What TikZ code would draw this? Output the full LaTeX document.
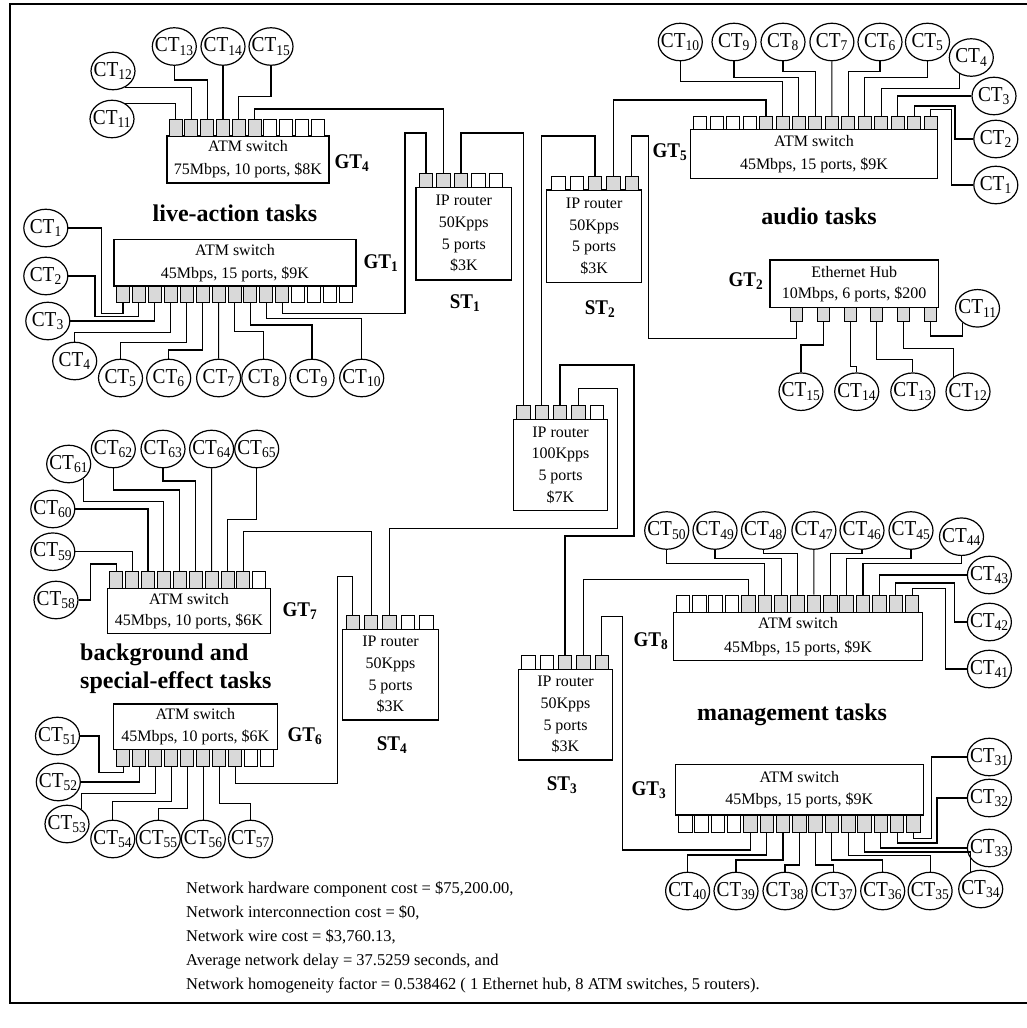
\documentclass[tikz,border=0pt]{standalone}
\usepackage{fontspec}
\usepackage{graphicx}
\setmainfont{Liberation Serif}
\usetikzlibrary{shapes.geometric}

\newcommand{\ctl}[1]{\makebox[0pt]{\scalebox{1}[1.1]{CT\textsubscript{#1}}}}
\newcommand{\gtl}[1]{\scalebox{1}[1.1]{GT\textsubscript{#1}}}
\newcommand{\stl}[1]{\scalebox{1}[1.1]{ST\textsubscript{#1}}}

\begin{document}
\begin{tikzpicture}[x=1pt, y=-1pt,
    wire/.style={line width=1.1pt},
    ct/.style={draw, ellipse, line width=1.2pt, minimum width=44, minimum height=37.5,
               inner sep=0pt, font=\fontsize{19.3}{20}\selectfont},
    sw/.style={draw, line width=1.3pt, inner sep=0pt, align=center,
               font=\fontsize{16}{23}\selectfont},
    rt/.style={draw, line width=1.3pt, inner sep=0pt, align=center,
               font=\fontsize{16}{21.7}\selectfont},
    port/.style={draw, line width=0.9pt, inner sep=0pt, minimum width=13, minimum height=16.6},
    rport/.style={port, minimum width=13.3, minimum height=14},
    tag/.style={font=\fontsize{19}{20}\selectfont\bfseries},
    task/.style={font=\fontsize{24}{28}\selectfont\bfseries, align=left, inner sep=0pt}]

\useasboundingbox (0,0) rectangle (1027,1028);
\draw[line width=1.2pt] (10,4) rectangle (1032,1003);

% GT4 - top left switch
\node[sw, minimum width=162, minimum height=47] (g4) at (248,159.5) {ATM switch\\75Mbps, 10 ports, \$8K};
\node[tag] (tg4) at (352,163) {\gtl{4}};
\foreach \i in {1,...,10}{
  \ifnum\i<7 \def\pf{gray!30}\else\def\pf{white}\fi
  \node[port, fill=\pf] (g4p\i) at ({175.6+15.8*(\i-1)},128) {};
}
\node[ct] (g4c11) at (112,119) {\ctl{11}};
\node[ct] (g4c12) at (113,71) {\ctl{12}};
\node[ct] (g4c13) at (174.3,46.5) {\ctl{13}};
\node[ct] (g4c14) at (223,46.5) {\ctl{14}};
\node[ct] (g4c15) at (271,46.5) {\ctl{15}};

% GT1 - live-action
\node[task] (live) at (235,213) {live-action tasks};
\node[sw, minimum width=242, minimum height=46.6] (g1) at (235,262.7) {ATM switch\\45Mbps, 15 ports, \$9K};
\node[tag] (tg1) at (381,263) {\gtl{1}};
\foreach \i in {1,...,15}{
  \ifnum\i<12 \def\pf{gray!30}\else\def\pf{white}\fi
  \node[port, fill=\pf] (g1p\i) at ({123+15.93*(\i-1)},294.3) {};
}
\node[ct] (g1c1) at (45.8,228) {\ctl{1}};
\node[ct] (g1c2) at (45.8,276) {\ctl{2}};
\node[ct] (g1c3) at (47.8,321) {\ctl{3}};
\node[ct] (g1c4) at (74.7,361) {\ctl{4}};
\node[ct] (g1c5) at (120.5,378) {\ctl{5}};
\node[ct] (g1c6) at (168.7,378) {\ctl{6}};
\node[ct] (g1c7) at (218.6,378) {\ctl{7}};
\node[ct] (g1c8) at (263.8,378) {\ctl{8}};
\node[ct] (g1c9) at (312,378) {\ctl{9}};
\node[ct] (g1c10) at (361.7,378) {\ctl{10}};

% routers ST1, ST2 and the core one
\node[rt, minimum width=95.7, minimum height=92.7] (st1) at (463.8,233.7) {IP router\\50Kpps\\5 ports\\\$3K};
\node[tag] (tst1) at (465,303) {\stl{1}};
\foreach \i in {1,...,5}{
  \ifnum\i<4 \def\pf{gray!30}\else\def\pf{white}\fi
  \node[rport, fill=\pf] (st1p\i) at ({426+17.5*(\i-1)},180.3) {};
}
\node[rt, minimum width=95, minimum height=92.7] (st2) at (594.2,236.35) {IP router\\50Kpps\\5 ports\\\$3K};
\node[tag] (tst2) at (600,309) {\stl{2}};
\foreach \i in {1,...,5}{
  \ifnum\i>2 \def\pf{gray!30}\else\def\pf{white}\fi
  \node[rport, fill=\pf] (st2p\i) at ({558.3+18.35*(\i-1)},183) {};
}
\node[rt, minimum width=94.4, minimum height=91.4] (core) at (560.5,465) {IP router\\100Kpps\\5 ports\\\$7K};
\foreach \i in {1,...,5}{
  \ifnum\i<5 \def\pf{gray!30}\else\def\pf{white}\fi
  \node[rport, fill=\pf] (corep\i) at ({523.3+18.35*(\i-1)},412.3) {};
}

% GT5 - audio
\node[task] (audio) at (819,216) {audio tasks};
\node[sw, minimum width=246.6, minimum height=49] (g5) at (814,153.8) {ATM switch\\45Mbps, 15 ports, \$9K};
\node[tag] (tg5) at (670,152) {\gtl{5}};
\foreach \i in {1,...,15}{
  \ifnum\i>4 \def\pf{gray!30}\else\def\pf{white}\fi
  \node[port, fill=\pf, minimum height=12.6] (g5p\i) at ({700.1+16.47*(\i-1)},123) {};
}
\node[ct] (g5c10) at (680.3,42) {\ctl{10}};
\node[ct] (g5c9) at (734,42) {\ctl{9}};
\node[ct] (g5c8) at (783,42) {\ctl{8}};
\node[ct] (g5c7) at (831.9,42) {\ctl{7}};
\node[ct] (g5c6) at (880,42) {\ctl{6}};
\node[ct] (g5c5) at (927.5,42) {\ctl{5}};
\node[ct] (g5c4) at (971.3,57.5) {\ctl{4}};
\node[ct] (g5c3) at (994,96) {\ctl{3}};
\node[ct] (g5c2) at (995.8,139) {\ctl{2}};
\node[ct] (g5c1) at (995.8,185) {\ctl{1}};

% GT2 - ethernet hub
\node[sw, minimum width=168.3, minimum height=47.3, font=\fontsize{16}{21}\selectfont] (g2) at (854.2,283.7) {Ethernet Hub\\10Mbps, 6 ports, \$200};
\node[tag] (tg2) at (746,281) {\gtl{2}};
\foreach \i in {1,...,6}
  \node[port, fill=gray!30, minimum width=12, minimum height=14.4] (g2p\i) at ({796.7+26.67*(\i-1)},314.5) {};
\node[ct] (g2c15) at (801,391.7) {\ctl{15}};
\node[ct] (g2c14) at (856.7,391.7) {\ctl{14}};
\node[ct] (g2c13) at (912.8,391.7) {\ctl{13}};
\node[ct] (g2c12) at (968,391.7) {\ctl{12}};
\node[ct] (g2c11) at (977.5,308.3) {\ctl{11}};

% GT7 - background
\node[sw, minimum width=163.4, minimum height=45, font=\fontsize{16}{21}\selectfont] (g7) at (189,610.8) {ATM switch\\45Mbps, 10 ports, \$6K};
\node[tag] (tg7) at (300,611) {\gtl{7}};
\foreach \i in {1,...,10}{
  \ifnum\i<10 \def\pf{gray!30}\else\def\pf{white}\fi
  \node[port, fill=\pf] (g7p\i) at ({116.2+15.9*(\i-1)},580) {};
}
\node[ct] (g7c58) at (56,600) {\ctl{58}};
\node[ct] (g7c59) at (52.8,551.7) {\ctl{59}};
\node[ct] (g7c60) at (52.8,509) {\ctl{60}};
\node[ct] (g7c61) at (68.7,464) {\ctl{61}};
\node[ct] (g7c62) at (113.3,449) {\ctl{62}};
\node[ct] (g7c63) at (163,449) {\ctl{63}};
\node[ct] (g7c64) at (211.6,449) {\ctl{64}};
\node[ct] (g7c65) at (256.7,449) {\ctl{65}};
\node[task, anchor=west] (bgfx) at (80,669) {background and\\special-effect tasks};

% GT6
\node[sw, minimum width=164, minimum height=45.3, font=\fontsize{16}{21.7}\selectfont] (g6) at (195.3,726.7) {ATM switch\\45Mbps, 10 ports, \$6K};
\node[tag] (tg6) at (305,736) {\gtl{6}};
\foreach \i in {1,...,10}{
  \ifnum\i<9 \def\pf{gray!30}\else\def\pf{white}\fi
  \node[port, fill=\pf] (g6p\i) at ({123.3+16*(\i-1)},757.65) {};
}
\node[ct] (g6c51) at (57.5,736) {\ctl{51}};
\node[ct] (g6c52) at (58.3,782) {\ctl{52}};
\node[ct] (g6c53) at (67,824) {\ctl{53}};
\node[ct] (g6c54) at (112.8,839) {\ctl{54}};
\node[ct] (g6c55) at (158.3,839) {\ctl{55}};
\node[ct] (g6c56) at (203.3,839) {\ctl{56}};
\node[ct] (g6c57) at (250.5,839) {\ctl{57}};

% routers ST4, ST3
\node[rt, minimum width=95.6, minimum height=90.7] (st4) at (390.5,674.65) {IP router\\50Kpps\\5 ports\\\$3K};
\node[tag] (tst4) at (392,745) {\stl{4}};
\foreach \i in {1,...,5}{
  \ifnum\i<4 \def\pf{gray!30}\else\def\pf{white}\fi
  \node[rport, fill=\pf] (st4p\i) at ({352.7+18.4*(\i-1)},622.3) {};
}
\node[rt, minimum width=94.4, minimum height=90.7] (st3) at (565.5,714.65) {IP router\\50Kpps\\5 ports\\\$3K};
\node[tag] (tst3) at (562,785) {\stl{3}};
\foreach \i in {1,...,5}{
  \ifnum\i>2 \def\pf{gray!30}\else\def\pf{white}\fi
  \node[rport, fill=\pf] (st3p\i) at ({528.3+18.35*(\i-1)},662.3) {};
}

% GT8
\node[sw, minimum width=248.8, minimum height=48, font=\fontsize{16}{24.5}\selectfont] (g8) at (798,636.6) {ATM switch\\45Mbps, 15 ports, \$9K};
\node[tag] (tg8) at (651,641) {\gtl{8}};
\foreach \i in {1,...,15}{
  \ifnum\i>4 \def\pf{gray!30}\else\def\pf{white}\fi
  \node[port, fill=\pf, minimum width=13.5, minimum height=17.5] (g8p\i) at ({682.9+16.37*(\i-1)},603.9) {};
}
\node[ct] (g8c50) at (666.7,530.5) {\ctl{50}};
\node[ct] (g8c49) at (715,530.5) {\ctl{49}};
\node[ct] (g8c48) at (763.5,530.5) {\ctl{48}};
\node[ct] (g8c47) at (813.9,530.5) {\ctl{47}};
\node[ct] (g8c46) at (862,530.5) {\ctl{46}};
\node[ct] (g8c45) at (911,530.5) {\ctl{45}};
\node[ct] (g8c44) at (961.5,536.7) {\ctl{44}};
\node[ct] (g8c43) at (989.4,575) {\ctl{43}};
\node[ct] (g8c42) at (989.4,622) {\ctl{42}};
\node[ct] (g8c41) at (989.4,669) {\ctl{41}};

% GT3 - management
\node[task] (mgmt) at (792,715) {management tasks};
\node[sw, minimum width=247.7, minimum height=50.6, font=\fontsize{16}{22}\selectfont] (g3) at (799.3,789.8) {ATM switch\\45Mbps, 15 ports, \$9K};
\node[tag] (tg3) at (649,790) {\gtl{3}};
\foreach \i in {1,...,15}{
  \ifnum\i>4 \def\pf{gray!30}\else\def\pf{white}\fi
  \node[port, fill=\pf, minimum width=13.5, minimum height=17.5] (g3p\i) at ({685.3+16.29*(\i-1)},823.9) {};
}
\node[ct] (g3c40) at (687.6,891) {\ctl{40}};
\node[ct] (g3c39) at (736,891) {\ctl{39}};
\node[ct] (g3c38) at (785,891) {\ctl{38}};
\node[ct] (g3c37) at (833.8,891) {\ctl{37}};
\node[ct] (g3c36) at (882.7,891) {\ctl{36}};
\node[ct] (g3c35) at (930.1,891) {\ctl{35}};
\node[ct] (g3c34) at (980.7,889) {\ctl{34}};
\node[ct] (g3c33) at (989.4,848) {\ctl{33}};
\node[ct] (g3c32) at (989.4,798) {\ctl{32}};
\node[ct] (g3c31) at (989.4,757) {\ctl{31}};

% summary
\node[font=\fontsize{16.5}{24}\selectfont, align=left, anchor=north west, inner sep=0pt] (stats) at (186,881)
  {Network hardware component cost = \$75,200.00,\\
   Network interconnection cost = \$0,\\
   Network wire cost = \$3,760.13,\\
   Average network delay = 37.5259 seconds, and\\
   Network homogeneity factor = 0.538462 ( 1 Ethernet hub, 8 ATM switches, 5 routers).};

% wires GT4
\draw[wire] (g4p1) |- (g4c11.50);
\draw[wire] (g4p2) |- (g4c12.-55);
\draw[wire] (g4p3) -- (g4p3 |- 0,80) -| (g4c13);
\draw[wire] (g4p4) -- (g4c14);
\draw[wire] (g4p5) -- (g4p5 |- 0,96.7) -| (g4c15);
\draw[wire] (g4p6) -- (g4p6 |- 0,109) -| (st1p2);

% wires GT1
\draw[wire] (g1p1) |- (101.7,313.3) |- (g1c1);
\draw[wire] (g1p2) |- (95,316.7) |- (g1c2);
\draw[wire] (g1p3) |- (g1c3);
\draw[wire] (g1p4) -- (g1p4 |- 0,332.7) -| (g1c4);
\draw[wire] (g1p5) -- (g1p5 |- 0,342.7) -| (g1c5);
\draw[wire] (g1p6) -- (g1p6 |- 0,350) -| (g1c6);
\draw[wire] (g1p7) -- (g1c7);
\draw[wire] (g1p8) -- (g1p8 |- 0,331.7) -| (g1c8);
\draw[wire] (g1p9) -- (g1p9 |- 0,325) -| (g1c9);
\draw[wire] (g1p10) -- (g1p10 |- 0,318.3) -| (g1c10);
\draw[wire] (g1p11) |- (405,313.3) -- (405,133) -| (st1p1);

% wires between routers
\draw[wire] (st1p3) -- (st1p3 |- 0,133) -| (corep1);
\draw[wire] (st2p3) -- (st2p3 |- 0,136) -| (corep2);
\draw[wire] (st2p4) -- (st2p4 |- 0,100) -| (g5p5);
\draw[wire] (st2p5) |- (648.3,136) -- (648.3,338.3) -| (g2p1);
\draw[wire] (corep3) |- (634,365) -- (634,536) -| (st3p3);
\draw[wire] (corep4) |- (617.5,388.3) -- (617.5,528.3) -| (st4p3);
\draw[wire] (st4p1) |- (337.3,576.7) -- (337.3,783.3) -| (g6p8);
\draw[wire] (g7p9) -- (g7p9 |- 0,531.7) -| (st4p2);
\draw[wire] (st3p4) -- (st3p4 |- 0,579.4) -| (g8p5);
\draw[wire] (st3p5) |- (622.7,616.7) -- (622.7,850) -| (g3p5);

% wires GT5
\draw[wire] (g5p6) -- (g5p6 |- 0,81.7) -| (g5c10);
\draw[wire] (g5p7) -- (g5p7 |- 0,77.3) -| (g5c9);
\draw[wire] (g5p8) -- (g5p8 |- 0,71.7) -| (g5c8);
\draw[wire] (g5p9) -- (g5c7);
\draw[wire] (g5p10) -- (g5p10 |- 0,71.7) -| (g5c6);
\draw[wire] (g5p11) -- (g5p11 |- 0,77.3) -| (g5c5);
\draw[wire] (g5p12) -- (g5p12 |- 0,88.3) -| (g5c4.-125);
\draw[wire] (g5p13) |- (g5c3);
\draw[wire] (g5p14) |- (955,106) |- (g5c2);
\draw[wire] (g5p15) |- (951.7,109.3) |- (g5c1);

% wires GT2
\draw[wire] (g2p2) -- (g2p2 |- 0,345) -| (g2c15);
\draw[wire] (g2p3) -- (g2p3 |- 0,366.7) -| (g2c14);
\draw[wire] (g2p4) -- (g2p4 |- 0,359.3) -| (g2c13);
\draw[wire] (g2p5) -- (g2p5 |- 0,348.3) -| (g2c12.135);
\draw[wire] (g2p6) -- (g2p6 |- 0,336) -| (g2c11.-135);

% wires GT7
\draw[wire] (g7p1) |- (90.7,564) |- (g7c58);
\draw[wire] (g7p2) |- (g7c59);
\draw[wire] (g7p3) |- (g7c60);
\draw[wire] (g7p4) -- (g7p4 |- 0,501.7) -| (g7c61.-45);
\draw[wire] (g7p5) -- (g7p5 |- 0,490) -| (g7c62);
\draw[wire] (g7p6) -- (g7p6 |- 0,481) -| (g7c63);
\draw[wire] (g7p7) -- (g7c64);
\draw[wire] (g7p8) -- (g7p8 |- 0,519.3) -| (g7c65);

% wires GT6
\draw[wire] (g6p1) |- (99,772.7) |- (g6c51);
\draw[wire] (g6p2) |- (g6c52);
\draw[wire] (g6p3) -- (g6p3 |- 0,793.3) -| (g6c53.45);
\draw[wire] (g6p4) -- (g6p4 |- 0,801.7) -| (g6c54);
\draw[wire] (g6p5) -- (g6p5 |- 0,808.3) -| (g6c55);
\draw[wire] (g6p6) -- (g6c56);
\draw[wire] (g6p7) -- (g6p7 |- 0,803.3) -| (g6c57);

% wires GT8
\draw[wire] (g8p6) -- (g8p6 |- 0,563.7) -| (g8c50);
\draw[wire] (g8p7) -- (g8p7 |- 0,558.5) -| (g8c49);
\draw[wire] (g8p8) -- (g8p8 |- 0,553.3) -| (g8c48);
\draw[wire] (g8p9) -- (g8c47);
\draw[wire] (g8p10) -- (g8p10 |- 0,553.3) -| (g8c46);
\draw[wire] (g8p11) -- (g8p11 |- 0,558.5) -| (g8c45);
\draw[wire] (g8p12) -- (g8p12 |- 0,563.7) -| (g8c44);
\draw[wire] (g8p13) |- (g8c43);
\draw[wire] (g8p14) |- (954.5,583) |- (g8c42);
\draw[wire] (g8p15) |- (945.8,588.2) |- (g8c41);

% wires GT3
\draw[wire] (g3p6) -- (g3p6 |- 0,855) -| (g3c40);
\draw[wire] (g3p7) -- (g3p7 |- 0,860) -| (g3c39);
\draw[wire] (g3p8) -- (g3p8 |- 0,865) -| (g3c38);
\draw[wire] (g3p9) -- (g3p9 |- 0,865) -| (g3c37);
\draw[wire] (g3p10) -- (g3p10 |- 0,860) -| (g3c36);
\draw[wire] (g3p11) -- (g3p11 |- 0,855.5) -| (g3c35);
\draw[wire] (g3p12) -- (g3p12 |- 0,852) -| (g3c34.120);
\draw[wire] (g3p13) |- (g3c33);
\draw[wire] (g3p14) |- (937,843) |- (g3c32);
\draw[wire] (g3p15) |- (931.8,838.9) |- (g3c31);
\end{tikzpicture}
\end{document}
